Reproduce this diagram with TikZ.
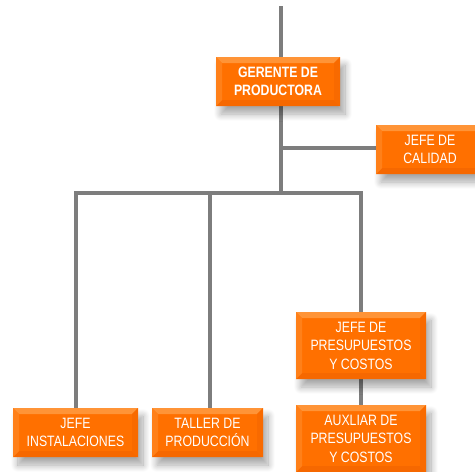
\documentclass[tikz,border=0pt]{standalone}
\usepackage{fontspec}
\newfontfamily\boxfont[FakeStretch=0.82]{Liberation Sans}
\usetikzlibrary{shadows.blur,backgrounds}
\definecolor{org}{RGB}{255,112,0}
\definecolor{orgtop}{RGB}{255,148,55}
\definecolor{orgleft}{RGB}{255,128,25}
\definecolor{orgright}{RGB}{248,106,0}
\definecolor{orgbot}{RGB}{246,104,0}
\definecolor{linegray}{RGB}{125,125,125}
\tikzset{
  orgbox/.style={rectangle, inner sep=0pt, text=white, align=center,
    font=\boxfont\fontsize{15}{18.5}\selectfont,
    fill=org,
    blur shadow={shadow xshift=5pt, shadow yshift=-8pt, shadow blur steps=12, shadow blur radius=7pt, shadow opacity=35},
    path picture={
      \fill[orgtop] (path picture bounding box.north west) -- (path picture bounding box.north east)
        -- ([xshift=-6pt,yshift=-6pt]path picture bounding box.north east)
        -- ([xshift=6pt,yshift=-6pt]path picture bounding box.north west) -- cycle;
      \fill[orgbot] (path picture bounding box.south west) -- (path picture bounding box.south east)
        -- ([xshift=-6pt,yshift=6pt]path picture bounding box.south east)
        -- ([xshift=6pt,yshift=6pt]path picture bounding box.south west) -- cycle;
      \fill[orgleft] (path picture bounding box.north west)
        -- ([xshift=6pt,yshift=-6pt]path picture bounding box.north west)
        -- ([xshift=6pt,yshift=6pt]path picture bounding box.south west)
        -- (path picture bounding box.south west) -- cycle;
      \fill[orgright] (path picture bounding box.north east)
        -- ([xshift=-6pt,yshift=-6pt]path picture bounding box.north east)
        -- ([xshift=-6pt,yshift=6pt]path picture bounding box.south east)
        -- (path picture bounding box.south east) -- cycle;
    }},
  conn/.style={draw=linegray, line width=4pt},
  connshadow/.style={draw=black, opacity=0.12, line width=4pt, xshift=3pt, yshift=-2pt},
}
\begin{document}
\begin{tikzpicture}[x=1pt,y=-1pt]
\useasboundingbox (0,0) rectangle (475,472);
\node[orgbox, minimum width=124pt, minimum height=49pt, font=\boxfont\bfseries\fontsize{15}{18.5}\selectfont] (ger) at (278,81.5) {GERENTE DE\\PRODUCTORA};
\node[orgbox, minimum width=108pt, minimum height=49pt] (cal) at (430,149.5) {JEFE DE\\CALIDAD};
\node[orgbox, minimum width=125pt, minimum height=49pt] (ins) at (75.5,432.5) {JEFE\\INSTALACIONES};
\node[orgbox, minimum width=111pt, minimum height=49pt] (tal) at (207.5,432.5) {TALLER DE\\PRODUCCIÓN};
\node[orgbox, minimum width=130pt, minimum height=67pt] (pre) at (361,345.5) {JEFE DE\\PRESUPUESTOS\\Y COSTOS};
\node[orgbox, minimum width=130pt, minimum height=67pt] (aux) at (361,438.5) {AUXLIAR DE\\PRESUPUESTOS\\Y COSTOS};
\coordinate (top) at (281,6);
\coordinate (busm) at (281,193);
\coordinate (calj) at (279,148);
\coordinate (busl) at (76,193);
\coordinate (bust) at (210,193);
\coordinate (busr) at (361,193);
\begin{scope}[on background layer]
  \foreach \s in {connshadow,conn}{
    \draw[\s] (top) -- (top |- ger.north);
    \draw[\s] (top |- ger.south) -- (busm);
    \draw[\s] (calj) -- (calj -| cal.west);
    \draw[\s, line cap=rect] (busl) -- (busr);
    \draw[\s] (busl) -- (busl |- ins.north);
    \draw[\s] (bust) -- (bust |- tal.north);
    \draw[\s] (busr) -- (pre.north);
    \draw[\s] (pre.south) -- (aux.north);
  }
\end{scope}
\end{tikzpicture}
\end{document}
